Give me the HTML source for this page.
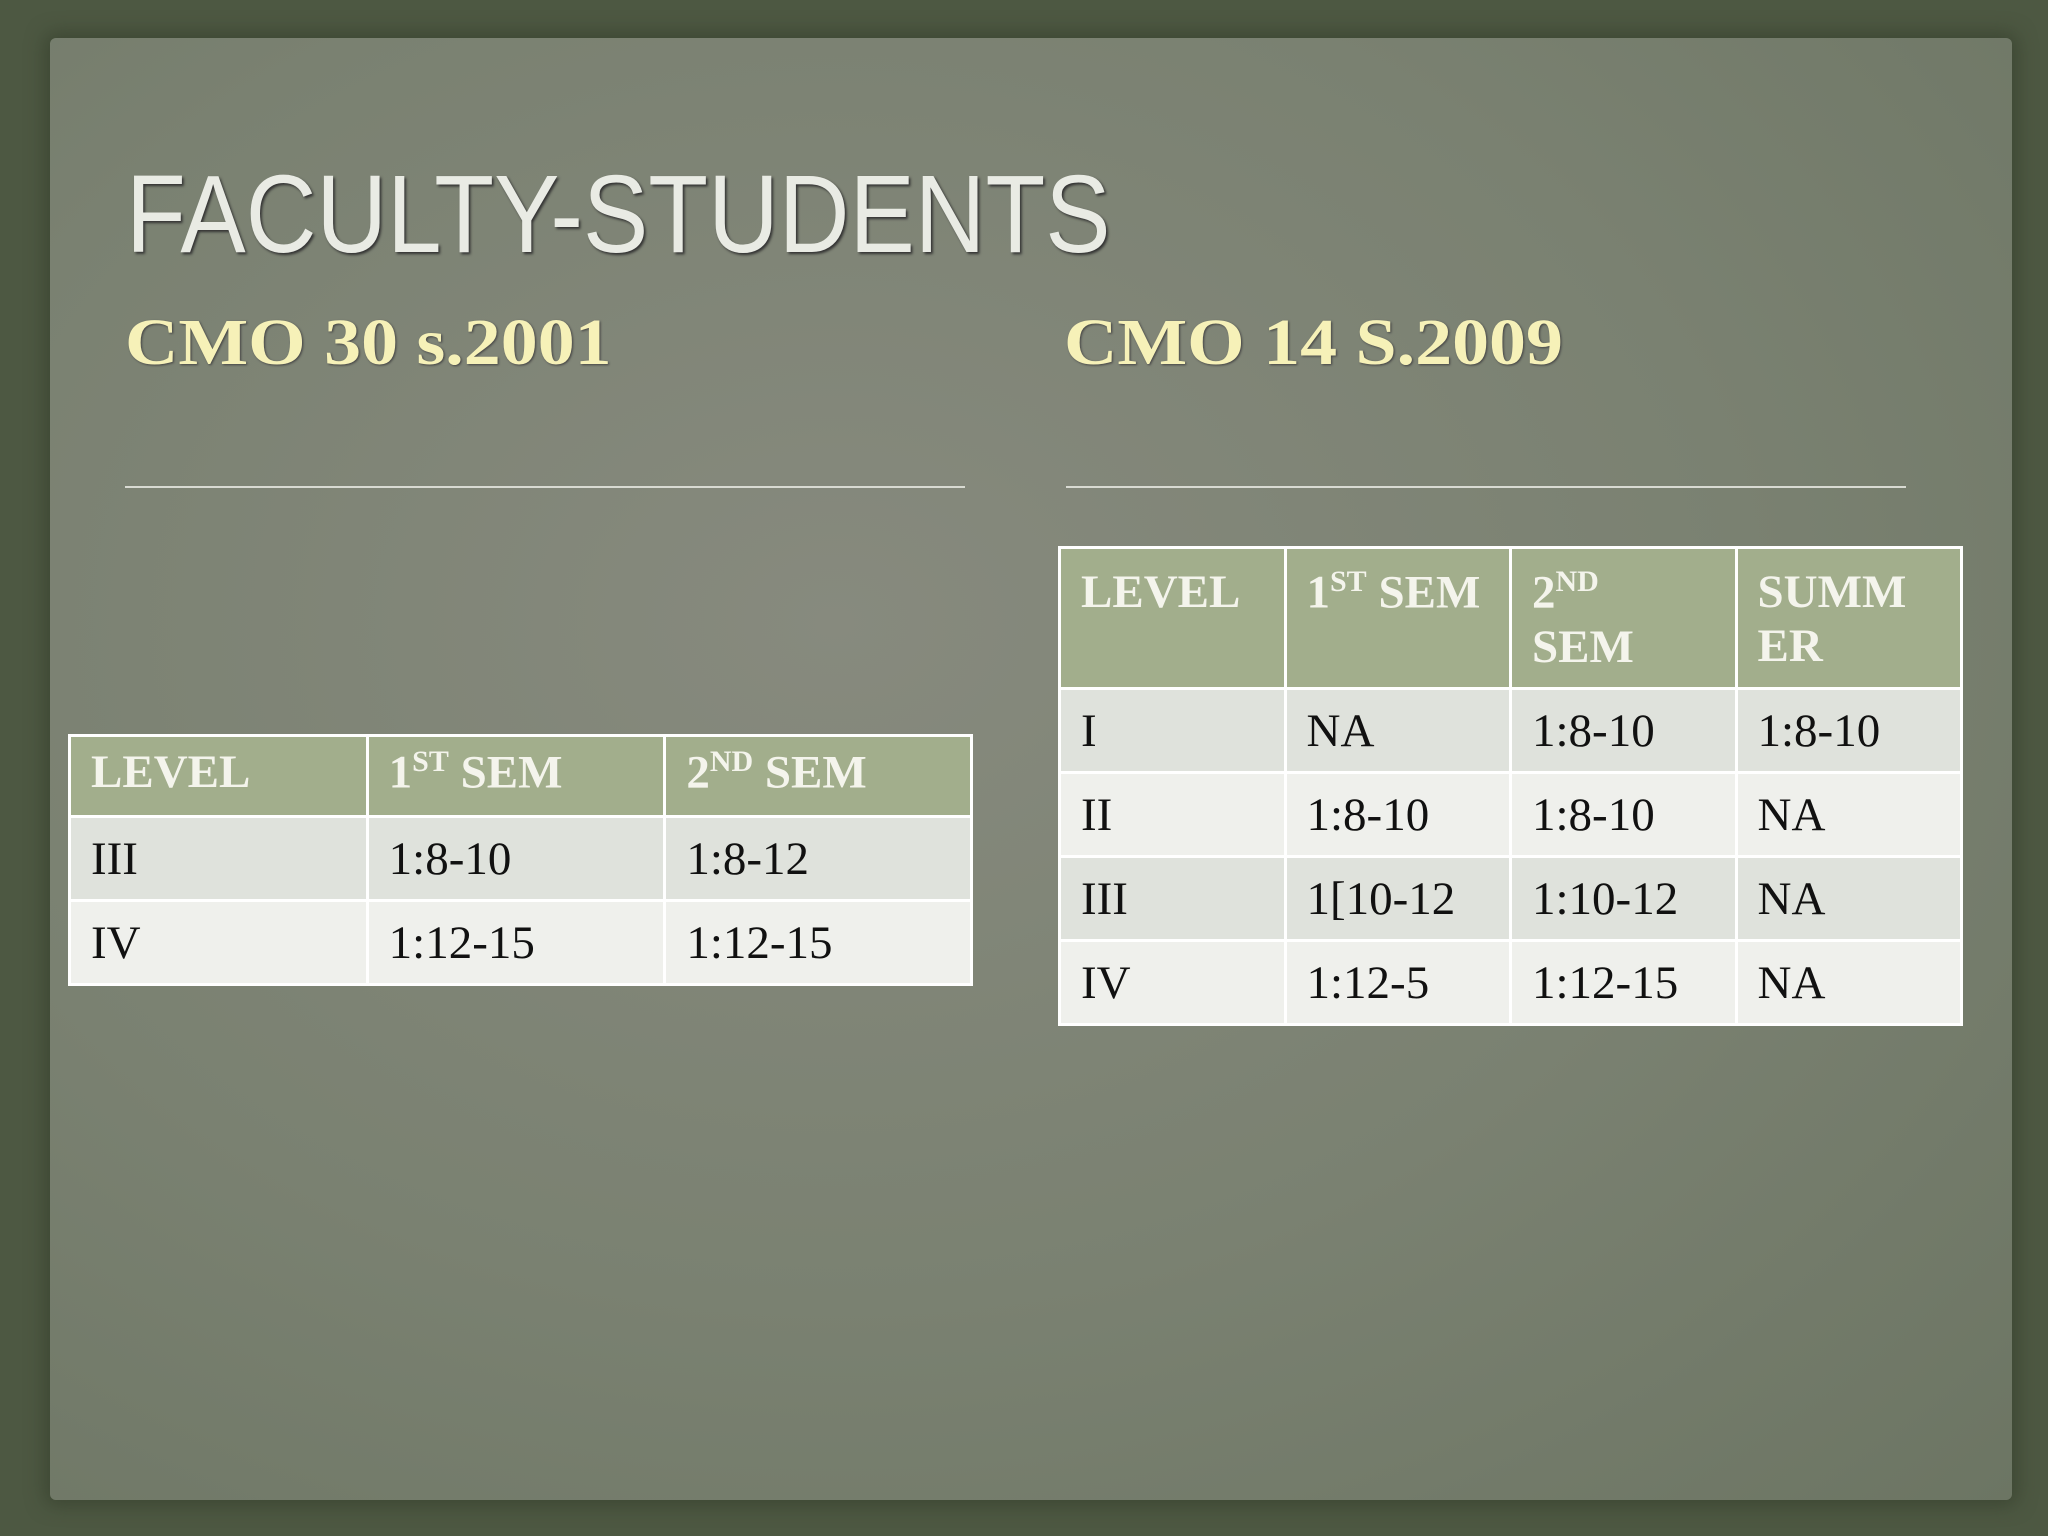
<!DOCTYPE html>
<html><head><meta charset="utf-8"><style>
body{margin:0;width:2048px;height:1536px;overflow:hidden;background:#4d5842;position:relative;font-family:"Liberation Serif",serif}
.paper{position:absolute;left:50px;top:38px;width:1962px;height:1462px;background:radial-gradient(ellipse at 40% 40%,#878a7e 0%,#7a8171 55%,#6c7563 100%);border-radius:6px;box-shadow:0 0 18px 6px #3e4834}
.title{position:absolute;left:126px;top:160px;font-size:110px;color:#e9ebe4;line-height:1;text-shadow:2px 2px 3px #333;font-family:"Liberation Sans",sans-serif;transform:scaleX(0.89);transform-origin:0 0}
.sub{position:absolute;top:310px;font-size:66px;font-weight:bold;color:#f6f1b8;line-height:1;text-shadow:1px 1px 2px #444;transform:scaleX(1.12);transform-origin:0 0}
.rule{position:absolute;top:486px;height:2px;background:#d8dad2}
table{position:absolute;border-collapse:collapse;font-size:47px;color:#111}
td{border:3px solid #fff;padding:0 20px;vertical-align:middle}
th{border:3px solid #fff;background:#a2ae8c;color:#f4f4ec;font-weight:bold;text-align:left;padding:0 20px;vertical-align:top;padding-top:16px}
tr.a td{background:#dfe2dc} tr.b td{background:#eff0ec}
sup{font-size:30px}
</style></head><body>
<div class="paper"></div>
<div class="title">FACULTY-STUDENTS</div>
<div class="sub" style="left:125px">CMO 30 s.2001</div>
<div class="sub" style="left:1064px">CMO 14 S.2009</div>
<div class="rule" style="left:125px;width:840px"></div>
<div class="rule" style="left:1066px;width:840px"></div>
<table style="left:68px;top:734px;width:905px">
<tr style="height:81px"><th style="width:33%;padding-top:8px">LEVEL</th><th style="width:33%;padding-top:8px">1<sup>ST</sup> SEM</th><th style="padding-top:8px">2<sup>ND</sup> SEM</th></tr>
<tr class="a" style="height:84px"><td>III</td><td>1:8-10</td><td>1:8-12</td></tr>
<tr class="b" style="height:84px"><td>IV</td><td>1:12-15</td><td>1:12-15</td></tr>
</table>
<table style="left:1058px;top:546px;width:905px">
<tr style="height:141px"><th style="width:25%">LEVEL</th><th style="width:25%">1<sup>ST</sup> SEM</th><th style="width:25%">2<sup>ND</sup><br>SEM</th><th>SUMM<br>ER</th></tr>
<tr class="a" style="height:84px"><td>I</td><td>NA</td><td>1:8-10</td><td>1:8-10</td></tr>
<tr class="b" style="height:84px"><td>II</td><td>1:8-10</td><td>1:8-10</td><td>NA</td></tr>
<tr class="a" style="height:84px"><td>III</td><td>1[10-12</td><td>1:10-12</td><td>NA</td></tr>
<tr class="b" style="height:84px"><td>IV</td><td>1:12-5</td><td>1:12-15</td><td>NA</td></tr>
</table>
</body></html>
